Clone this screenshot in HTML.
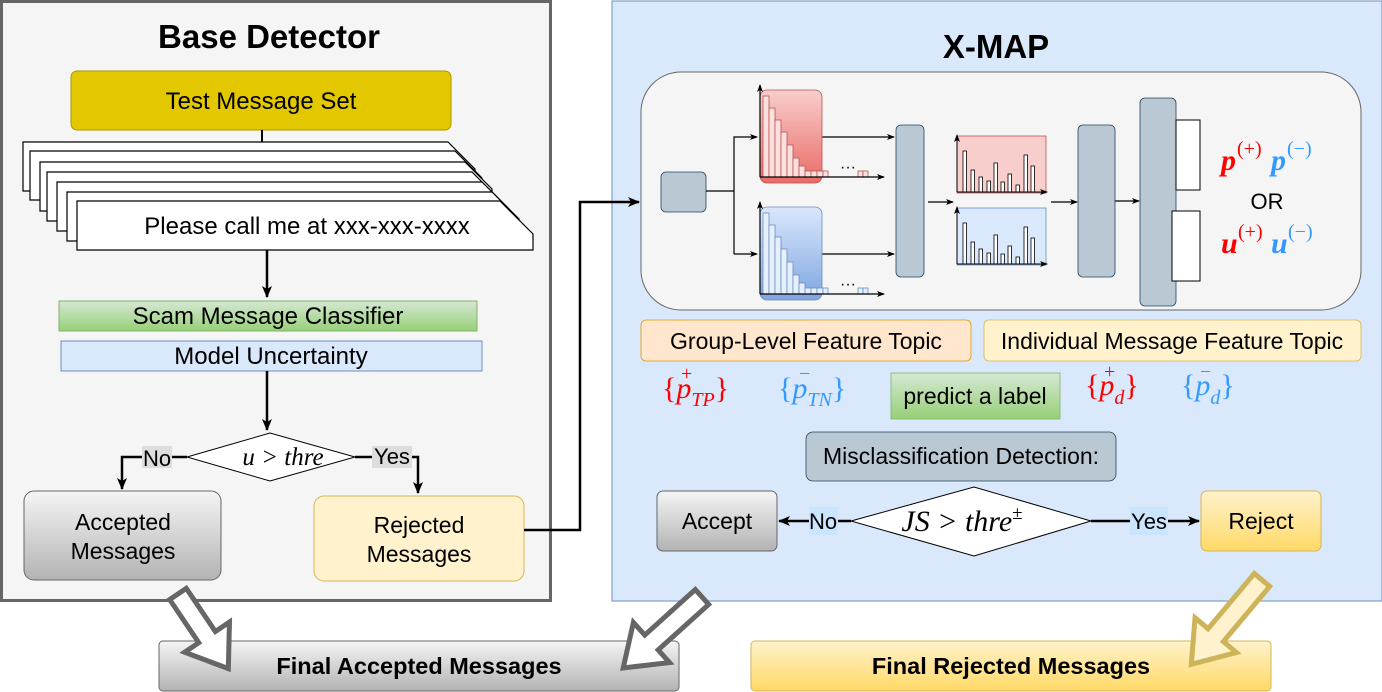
<!DOCTYPE html>
<html><head><meta charset="utf-8"><style>
body{margin:0;background:#fff}
svg{display:block;font-family:"Liberation Sans",sans-serif}
.m{font-family:"Liberation Serif",serif;font-style:italic}
</style></head><body>
<svg width="1382" height="692" viewBox="0 0 1382 692" xmlns="http://www.w3.org/2000/svg">
<defs>
<marker id="ah" markerWidth="12" markerHeight="12" refX="11" refY="6" orient="auto" markerUnits="userSpaceOnUse"><path d="M0,1 L12,6 L0,11 L3,6 Z" fill="#000"/></marker>
<marker id="as" markerWidth="8" markerHeight="8" refX="7" refY="4" orient="auto" markerUnits="userSpaceOnUse"><path d="M0,1 L8,4 L0,7 L2,4 Z" fill="#000"/></marker>
<linearGradient id="gg" x1="0" y1="0" x2="0" y2="1"><stop offset="0" stop-color="#f5f5f5"/><stop offset="1" stop-color="#b3b3b3"/></linearGradient>
<linearGradient id="gy" x1="0" y1="0" x2="0" y2="1"><stop offset="0" stop-color="#fff2cc"/><stop offset="1" stop-color="#ffd966"/></linearGradient>
<linearGradient id="gn" x1="0" y1="0" x2="0" y2="1"><stop offset="0" stop-color="#d5e8d4"/><stop offset="1" stop-color="#97d077"/></linearGradient>
<linearGradient id="gr" x1="0" y1="0" x2="0" y2="1"><stop offset="0" stop-color="#f8cecc"/><stop offset="1" stop-color="#ea6b66"/></linearGradient>
<linearGradient id="gb" x1="0" y1="0" x2="0" y2="1"><stop offset="0" stop-color="#dae8fc"/><stop offset="1" stop-color="#7ea6e0"/></linearGradient>
</defs>

<!-- Left panel -->
<rect x="1.5" y="1.5" width="549" height="599" fill="#f5f5f5" stroke="#666" stroke-width="3"/>
<text x="269" y="48" font-size="33" font-weight="bold" text-anchor="middle">Base Detector</text>
<rect x="71" y="71" width="380" height="59" rx="6" fill="#e3c800" stroke="#b09500"/>
<text x="261" y="109" font-size="24" text-anchor="middle">Test Message Set</text>
<line x1="262" y1="130" x2="262" y2="142" stroke="#000" stroke-width="2"/>
<g fill="#fff" stroke="#000" stroke-width="1.2">
<polygon points="23,142 448,142 475,169 475,191 23,191"/>
<polygon points="30,151 455,151 482,178 482,200 30,200"/>
<polygon points="40,162 465,162 492,189 492,211 40,211"/>
<polygon points="47,172 472,172 499,199 499,221 47,221"/>
<polygon points="57,182 482,182 509,209 509,231 57,231"/>
<polygon points="67,192 492,192 519,219 519,241 67,241"/>
<polygon points="77,201 500,201 533,234 533,250 77,250"/>
</g>
<text x="307" y="234" font-size="24" text-anchor="middle">Please call me at xxx-xxx-xxxx</text>
<line x1="267" y1="250" x2="267" y2="297" stroke="#000" stroke-width="2.5" marker-end="url(#ah)"/>
<rect x="59" y="301" width="418" height="30" fill="url(#gn)" stroke="#82b366"/>
<text x="268" y="324" font-size="24" text-anchor="middle">Scam Message Classifier</text>
<rect x="61" y="341" width="421" height="30" fill="#dae8fc" stroke="#6c8ebf"/>
<text x="271" y="364" font-size="24" text-anchor="middle">Model Uncertainty</text>
<line x1="267" y1="371" x2="267" y2="430" stroke="#000" stroke-width="2.5" marker-end="url(#ah)"/>
<polygon points="187,457 270,433 355,457 270,481" fill="#fff" stroke="#000"/>
<text x="283" y="465" font-size="25" text-anchor="middle" class="m">u &gt; thre</text>
<polyline points="187,457 122,457 122,489" fill="none" stroke="#000" stroke-width="2.5" marker-end="url(#ah)"/>
<rect x="142" y="446" width="30" height="22" fill="#ddd"/>
<text x="157" y="466" font-size="22" text-anchor="middle">No</text>
<polyline points="355,457 418,457 418,493" fill="none" stroke="#000" stroke-width="2.5" marker-end="url(#ah)"/>
<rect x="372" y="446" width="40" height="22" fill="#ddd"/>
<text x="392" y="464" font-size="22" text-anchor="middle">Yes</text>
<rect x="24" y="491" width="197" height="89" rx="10" fill="url(#gg)" stroke="#666"/>
<text x="123" y="530" font-size="23" text-anchor="middle">Accepted</text>
<text x="123" y="559" font-size="23" text-anchor="middle">Messages</text>
<rect x="314" y="496" width="210" height="85" rx="10" fill="#fff2cc" stroke="#d6b656"/>
<text x="419" y="533" font-size="23" text-anchor="middle">Rejected</text>
<text x="419" y="562" font-size="23" text-anchor="middle">Messages</text>

<!-- Right panel -->
<rect x="612" y="1" width="770" height="600" fill="#dae8fc" stroke="#6c8ebf"/>
<polyline points="524,530 580,530 580,202 639,202" fill="none" stroke="#000" stroke-width="2.5" marker-end="url(#ah)"/>
<text x="996" y="58" font-size="33" font-weight="bold" text-anchor="middle">X-MAP</text>
<rect x="641" y="72" width="720" height="238" rx="40" fill="#f5f5f5" stroke="#666"/>
<rect x="661" y="172" width="45" height="40" rx="5" fill="#bac8d3" stroke="#23445d" stroke-width="0.8"/>
<g fill="none" stroke="#000" stroke-width="1.2">
<polyline points="706,191 734,191"/>
<polyline points="734,254 734,137 757,137" marker-end="url(#as)"/>
<polyline points="734,254 757,254" marker-end="url(#as)"/>
<line x1="822" y1="137" x2="894" y2="137" marker-end="url(#as)"/>
<line x1="822" y1="254" x2="894" y2="254" marker-end="url(#as)"/>
<line x1="928" y1="202" x2="953" y2="202" marker-end="url(#as)"/>
<line x1="1051" y1="202" x2="1077" y2="202" marker-end="url(#as)"/>
<line x1="1115" y1="201" x2="1139" y2="201" marker-end="url(#as)"/>
</g>
<!-- red hist -->
<rect x="760" y="90" width="62" height="93" rx="7" fill="url(#gr)" stroke="#b85450" stroke-width="0.8"/>
<g fill="#fbe0df" stroke="#b85450" stroke-width="0.8">
<rect x="763" y="96" width="6" height="81"/><rect x="769" y="108" width="6" height="69"/><rect x="775" y="120" width="6" height="57"/><rect x="781" y="132" width="6" height="45"/><rect x="787" y="145" width="6" height="32"/><rect x="793" y="158" width="6" height="19"/><rect x="799" y="166" width="6" height="11"/><rect x="805" y="171" width="6" height="6"/><rect x="811" y="171" width="6" height="6"/><rect x="817" y="171" width="6" height="6"/><rect x="823" y="171" width="5" height="6"/><rect x="858" y="171" width="5" height="6"/><rect x="863" y="171" width="5" height="6"/>
</g>
<line x1="760" y1="177" x2="760" y2="85" stroke="#000" stroke-width="1.2" marker-end="url(#as)"/>
<line x1="760" y1="177" x2="884" y2="177" stroke="#000" stroke-width="1.2" marker-end="url(#as)"/>
<text x="848" y="172" font-size="16" text-anchor="middle">···</text>
<!-- blue hist -->
<rect x="760" y="207" width="62" height="93" rx="7" fill="url(#gb)" stroke="#6c8ebf" stroke-width="0.8"/>
<g fill="#e6effc" stroke="#6c8ebf" stroke-width="0.8">
<rect x="763" y="213" width="6" height="81"/><rect x="769" y="225" width="6" height="69"/><rect x="775" y="237" width="6" height="57"/><rect x="781" y="249" width="6" height="45"/><rect x="787" y="262" width="6" height="32"/><rect x="793" y="275" width="6" height="19"/><rect x="799" y="283" width="6" height="11"/><rect x="805" y="288" width="6" height="6"/><rect x="811" y="288" width="6" height="6"/><rect x="817" y="288" width="6" height="6"/><rect x="823" y="288" width="5" height="6"/><rect x="858" y="288" width="5" height="6"/><rect x="863" y="288" width="5" height="6"/>
</g>
<line x1="760" y1="294" x2="760" y2="202" stroke="#000" stroke-width="1.2" marker-end="url(#as)"/>
<line x1="760" y1="294" x2="884" y2="294" stroke="#000" stroke-width="1.2" marker-end="url(#as)"/>
<text x="848" y="289" font-size="16" text-anchor="middle">···</text>
<rect x="896" y="125" width="28" height="152" rx="5" fill="#bac8d3" stroke="#23445d" stroke-width="0.8"/>
<!-- small charts -->
<rect x="957" y="136" width="89" height="57" fill="#f8cecc" stroke="#b85450" stroke-width="0.8"/>
<g fill="#fff" stroke="#000" stroke-width="0.8">
<rect x="963" y="151" width="3.5" height="41"/><rect x="971" y="170" width="3.5" height="22"/><rect x="979" y="177" width="3.5" height="15"/><rect x="987" y="181" width="3.5" height="11"/><rect x="994" y="163" width="3.5" height="29"/><rect x="1001" y="182" width="3.5" height="10"/><rect x="1008" y="174" width="3.5" height="18"/><rect x="1016" y="185" width="3.5" height="7"/><rect x="1024" y="155" width="3.5" height="37"/><rect x="1031" y="166" width="3.5" height="26"/>
</g>
<line x1="957" y1="192" x2="957" y2="135" stroke="#000" stroke-width="1" marker-end="url(#as)"/>
<line x1="957" y1="192" x2="1047" y2="192" stroke="#000" stroke-width="1" marker-end="url(#as)"/>
<rect x="957" y="208" width="89" height="57" fill="#dae8fc" stroke="#6c8ebf" stroke-width="0.8"/>
<g fill="#fff" stroke="#000" stroke-width="0.8">
<rect x="963" y="223" width="3.5" height="41"/><rect x="971" y="242" width="3.5" height="22"/><rect x="979" y="249" width="3.5" height="15"/><rect x="987" y="253" width="3.5" height="11"/><rect x="994" y="235" width="3.5" height="29"/><rect x="1001" y="254" width="3.5" height="10"/><rect x="1008" y="246" width="3.5" height="18"/><rect x="1016" y="257" width="3.5" height="7"/><rect x="1024" y="227" width="3.5" height="37"/><rect x="1031" y="238" width="3.5" height="26"/>
</g>
<line x1="957" y1="264" x2="957" y2="207" stroke="#000" stroke-width="1" marker-end="url(#as)"/>
<line x1="957" y1="264" x2="1047" y2="264" stroke="#000" stroke-width="1" marker-end="url(#as)"/>
<rect x="1078" y="125" width="37" height="152" rx="5" fill="#bac8d3" stroke="#23445d" stroke-width="0.8"/>
<rect x="1140" y="98" width="36" height="208" rx="5" fill="#bac8d3" stroke="#23445d" stroke-width="0.8"/>
<rect x="1176" y="120" width="24" height="70" fill="#fff" stroke="#000"/>
<rect x="1172" y="211" width="28" height="70" fill="#fff" stroke="#000"/>
<text x="1221" y="170" font-size="30" class="m" fill="#ff0000" font-weight="bold">p</text><text x="1237" y="155" font-size="20" font-family="Liberation Serif" fill="#ff0000">(+)</text>
<text x="1271" y="170" font-size="30" class="m" fill="#3399ff" font-weight="bold">p</text><text x="1287" y="155" font-size="20" font-family="Liberation Serif" fill="#3399ff">(−)</text>
<text x="1267" y="209" font-size="22" text-anchor="middle">OR</text>
<text x="1221" y="253" font-size="30" class="m" fill="#ff0000" font-weight="bold">u</text><text x="1238" y="238" font-size="20" font-family="Liberation Serif" fill="#ff0000">(+)</text>
<text x="1271" y="253" font-size="30" class="m" fill="#3399ff" font-weight="bold">u</text><text x="1288" y="238" font-size="20" font-family="Liberation Serif" fill="#3399ff">(−)</text>

<rect x="641" y="320" width="330" height="41" rx="5" fill="#ffe6cc" stroke="#d79b00" stroke-width="0.8"/>
<text x="806" y="349" font-size="23" text-anchor="middle">Group-Level Feature Topic</text>
<rect x="984" y="320" width="377" height="41" rx="5" fill="#fff2cc" stroke="#d6b656" stroke-width="0.8"/>
<text x="1172" y="349" font-size="23" text-anchor="middle">Individual Message Feature Topic</text>

<g font-family="Liberation Serif" font-size="30">
<text x="662" y="398" fill="#ff0000">{<tspan class="m">p</tspan><tspan font-size="20" dy="8" class="m">TP</tspan><tspan dy="-8">}</tspan></text>
<text x="681" y="380" fill="#ff0000" font-size="20">+</text>
<text x="778" y="398" fill="#3399ff">{<tspan class="m">p</tspan><tspan font-size="20" dy="8" class="m">TN</tspan><tspan dy="-8">}</tspan></text>
<text x="799" y="380" fill="#3399ff" font-size="20">−</text>
<text x="1085" y="395" fill="#ff0000">{<tspan class="m">p</tspan><tspan font-size="20" dy="9" class="m">d</tspan><tspan dy="-9">}</tspan></text>
<text x="1104" y="378" fill="#ff0000" font-size="20">+</text>
<text x="1181" y="395" fill="#3399ff">{<tspan class="m">p</tspan><tspan font-size="20" dy="9" class="m">d</tspan><tspan dy="-9">}</tspan></text>
<text x="1200" y="378" fill="#3399ff" font-size="20">−</text>
</g>
<rect x="891" y="373" width="169" height="46" fill="url(#gn)" stroke="#82b366" stroke-width="0.8"/>
<text x="975" y="404" font-size="23" text-anchor="middle">predict a label</text>
<rect x="806" y="432" width="310" height="49" rx="7" fill="#bac8d3" stroke="#23445d" stroke-width="0.8"/>
<text x="961" y="464" font-size="23" text-anchor="middle">Misclassification Detection:</text>

<polygon points="851,521 974,487 1091,521 974,556" fill="#fff" stroke="#000"/>
<text x="962" y="531" font-size="30" text-anchor="middle" class="m">JS &gt; thre<tspan font-size="19" dy="-12" font-style="normal">±</tspan></text>
<line x1="851" y1="521" x2="779" y2="521" stroke="#000" stroke-width="2.5" marker-end="url(#ah)"/>
<rect x="809" y="507" width="29" height="28" fill="#cce5ff"/>
<text x="823" y="529" font-size="22" text-anchor="middle">No</text>
<line x1="1091" y1="521" x2="1199" y2="521" stroke="#000" stroke-width="2.5" marker-end="url(#ah)"/>
<rect x="1130" y="507" width="38" height="28" fill="#cce5ff"/>
<text x="1149" y="529" font-size="22" text-anchor="middle">Yes</text>
<rect x="657" y="491" width="120" height="60" rx="6" fill="url(#gg)" stroke="#666"/>
<text x="717" y="529" font-size="23" text-anchor="middle">Accept</text>
<rect x="1201" y="491" width="120" height="60" rx="6" fill="url(#gy)" stroke="#d6b656"/>
<text x="1261" y="529" font-size="23" text-anchor="middle">Reject</text>

<!-- bottom -->
<rect x="159" y="641" width="520" height="50" rx="4" fill="url(#gg)" stroke="#666"/>
<text x="419" y="674" font-size="23.5" font-weight="bold" text-anchor="middle">Final Accepted Messages</text>
<rect x="751" y="641" width="520" height="50" rx="4" fill="url(#gy)" stroke="#d6b656"/>
<text x="1011" y="674" font-size="23.5" font-weight="bold" text-anchor="middle">Final Rejected Messages</text>
<g fill="#fff" stroke="#666" stroke-width="5" stroke-linejoin="miter">
<path transform="translate(178,594) rotate(56)" d="M0,-10 L52,-10 L52,-27 L90,0 L52,27 L52,10 L0,10 Z"/>
<path transform="translate(702,597) rotate(138)" d="M0,-10 L68,-10 L68,-27 L106,0 L68,27 L68,10 L0,10 Z"/>
</g>
<path transform="translate(1262,580) rotate(130)" d="M0,-10 L72,-10 L72,-27 L110,0 L72,27 L72,10 L0,10 Z" fill="#fff2cc" stroke="#cdb35a" stroke-width="5"/>
</svg>
</body></html>
